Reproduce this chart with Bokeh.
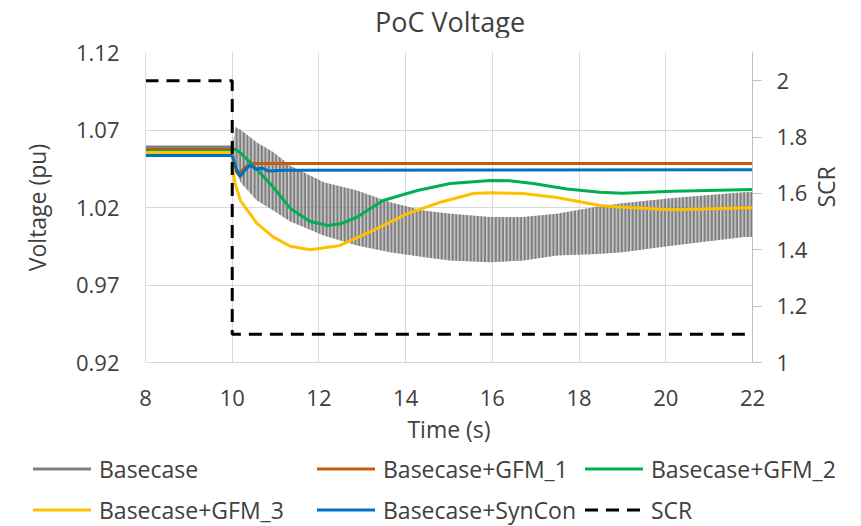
import math
from bokeh.plotting import figure
from bokeh.layouts import column
from bokeh.models import (LinearAxis, Range1d, FixedTicker, CustomJSTickFormatter,
                          ColumnDataSource, Div)
from bokeh.embed import file_html
from bokeh.resources import INLINE

# ---------------- data ----------------
# Basecase: steady line before the SCR step, then a fast oscillation shown by its envelope
base_pre_t = [8.0, 10.0]
base_pre_v = [1.059, 1.059]
base_t = [10.0, 10.08, 10.2, 10.57, 10.95, 11.34, 12.11, 12.88, 13.64, 14.4, 15.03,
          15.95, 16.71, 17.49, 18.4, 19.0, 20.17, 21.8, 22.0]
base_upper = [1.059, 1.072, 1.070, 1.062, 1.0557, 1.047, 1.0363, 1.031, 1.0234, 1.018, 1.016,
              1.0138, 1.0138, 1.016, 1.0205, 1.0228, 1.0262, 1.0299, 1.030]
base_lower = [1.059, 1.045, 1.036, 1.0245, 1.018, 1.011, 1.0019, 0.9955, 0.9912, 0.988, 0.9858,
              0.9847, 0.9858, 0.989, 0.990, 0.9912, 0.9955, 1.0009, 1.001]

gfm1_t = [8.0, 10.0, 10.05, 10.15, 10.3, 10.45, 22.0]
gfm1_v = [1.0575, 1.0575, 1.045, 1.041, 1.046, 1.0484, 1.0484]

gfm2_t = [8.0, 10.0, 10.05, 10.2, 10.57, 10.95, 11.34, 11.8, 12.2, 12.5, 12.88, 13.48,
          14.27, 15.03, 15.95, 16.4, 16.94, 17.72, 18.48, 19.0, 20.17, 22.0]
gfm2_v = [1.0563, 1.0563, 1.058, 1.055, 1.0445, 1.033, 1.0194, 1.011, 1.0084, 1.0095, 1.0138,
          1.0245, 1.031, 1.0355, 1.0374, 1.0372, 1.0355, 1.032, 1.0299, 1.0292, 1.0305, 1.0316]

gfm3_t = [8.0, 10.0, 10.02, 10.06, 10.19, 10.57, 10.95, 11.34, 11.8, 12.49, 13.25, 14.04,
          14.8, 15.56, 15.95, 16.71, 17.49, 18.48, 19.0, 20.17, 22.0]
gfm3_v = [1.0555, 1.0555, 1.045, 1.036, 1.0245, 1.0097, 1.0009, 0.995, 0.9927, 0.9955, 1.0052,
          1.0161, 1.0234, 1.029, 1.0295, 1.029, 1.0264, 1.0213, 1.0202, 1.0185, 1.0198]

syncon_t = [8.0, 10.0, 10.08, 10.18, 10.3, 10.42, 10.55, 10.68, 10.85, 11.2, 22.0]
syncon_v = [1.0535, 1.0535, 1.046, 1.040, 1.0445, 1.0475, 1.0445, 1.0455, 1.0435, 1.044, 1.0443]

scr_t = [8.0, 10.0, 10.0, 22.0]
scr_v = [2.0, 2.0, 1.1, 1.1]

x_ticks = [8, 10, 12, 14, 16, 18, 20, 22]
v_ticks = [0.92, 0.97, 1.02, 1.07, 1.12]
scr_ticks = [1, 1.2, 1.4, 1.6, 1.8, 2]

chart_title = "PoC Voltage"
series_labels = ["Basecase", "Basecase+GFM_1", "Basecase+GFM_2",
                 "Basecase+GFM_3", "Basecase+SynCon", "SCR"]

# ---------------- styling ----------------
FONT = "Open Sans"
TXT = "#404040"
GRID = "#d9d9d9"
C_BASE = "#7f7f7f"
C_G1 = "#c55a11"
C_G2 = "#00b050"
C_G3 = "#ffc000"
C_SYN = "#0070c0"
SCR_DASH = "13 8"

# ---------------- title strip ----------------
title_div = Div(
    text=(f'<div style="position:relative;width:861px;height:37px;background:white">'
          f'<span style="position:absolute;left:450px;top:21px;transform:translate(-50%,-50%);'
          f'font-family:\'{FONT}\';font-size:27px;line-height:1;color:{TXT};white-space:nowrap">'
          f'{chart_title}</span></div>'),
    width=861, height=37, margin=0)

# ---------------- chart ----------------
p = figure(width=861, height=413, x_range=Range1d(8, 22), y_range=Range1d(0.92, 1.12),
           output_backend="svg", toolbar_location=None,
           min_border_left=145, min_border_right=109, min_border_top=15, min_border_bottom=88)
p.extra_y_ranges = {"scr": Range1d(1, 2.1)}
p.outline_line_color = None
p.background_fill_color = "white"
p.border_fill_color = "white"

xa = p.xaxis[0]
xa.ticker = FixedTicker(ticks=x_ticks)
xa.axis_label = "Time (s)"
ya = p.yaxis[0]
ya.ticker = FixedTicker(ticks=v_ticks)
ya.formatter = CustomJSTickFormatter(code="return tick.toFixed(2);")
ya.axis_label = "Voltage (pu)"

ra = LinearAxis(y_range_name="scr", ticker=FixedTicker(ticks=scr_ticks),
                formatter=CustomJSTickFormatter(code="return Number(tick.toFixed(2)).toString();"),
                axis_label="SCR")
try:
    ra.axis_label_orientation = math.pi / 2
except Exception:
    pass
p.add_layout(ra, "right")

for ax in (xa, ya, ra):
    ax.axis_line_color = GRID
    ax.axis_line_width = 1
    ax.major_tick_in = 0
    ax.minor_tick_line_color = None
    ax.major_label_text_font = FONT
    ax.major_label_text_font_size = "22px"
    ax.major_label_text_color = TXT
    ax.axis_label_text_font = FONT
    ax.axis_label_text_font_size = "23px"
    ax.axis_label_text_font_style = "normal"
    ax.axis_label_text_color = TXT

xa.major_tick_out = 0
xa.major_tick_line_color = None
xa.major_label_standoff = 27
xa.axis_label_standoff = 4
ya.major_tick_out = 0
ya.major_tick_line_color = None
ya.major_label_standoff = 26
ya.axis_label_standoff = 20
ra.major_tick_out = 9
ra.major_tick_line_color = "#bfbfbf"
ra.axis_line_color = "#bfbfbf"
ra.major_label_standoff = 15
ra.axis_label_standoff = 16

p.xgrid.grid_line_color = GRID
p.ygrid.grid_line_color = GRID
p.xgrid.grid_line_width = 1
p.ygrid.grid_line_width = 1

band_src = ColumnDataSource(dict(t=base_t, up=base_upper, lo=base_lower))
p.varea(x="t", y1="lo", y2="up", source=band_src, fill_color=C_BASE, fill_alpha=0.4,
        hatch_pattern="vertical_line", hatch_color=C_BASE, hatch_scale=3.6, hatch_weight=2.6)
p.line(base_pre_t, base_pre_v, line_color=C_BASE, line_width=3)
p.line(gfm1_t, gfm1_v, line_color=C_G1, line_width=3)
p.line(gfm2_t, gfm2_v, line_color=C_G2, line_width=3)
p.line(gfm3_t, gfm3_v, line_color=C_G3, line_width=3)
p.line(syncon_t, syncon_v, line_color=C_SYN, line_width=3)
p.line(scr_t, scr_v, y_range_name="scr", line_color="black", line_width=3, line_dash=SCR_DASH)

# ---------------- legend strip (two rows x three columns) ----------------
swatch_colors = [C_BASE, C_G1, C_G2, C_G3, C_SYN, "black"]
swatch_dash = ["", "", "", "", "", SCR_DASH]
col_x = [33, 317, 585]
row_y = [19, 60]
parts = []
for i, lab in enumerate(series_labels):
    x0 = col_x[i % 3]
    yc = row_y[i // 3]
    dash = f' stroke-dasharray="{swatch_dash[i]}"' if swatch_dash[i] else ""
    parts.append(
        f'<svg style="position:absolute;left:{x0}px;top:{yc - 3}px" width="58" height="6">'
        f'<line x1="0" y1="3" x2="58" y2="3" stroke="{swatch_colors[i]}" stroke-width="3"{dash}/></svg>'
    )
    parts.append(
        f'<span style="position:absolute;left:{x0 + 66}px;top:{yc}px;transform:translateY(-50%);'
        f'line-height:1;white-space:nowrap">{lab}</span>'
    )
legend_html = (
    f'<div style="position:relative;width:861px;height:76px;font-family:\'{FONT}\';'
    f'font-size:23px;color:{TXT};background:white">' + "".join(parts) + "</div>"
)
legend_div = Div(text=legend_html, width=861, height=76, margin=0)

layout = column(title_div, p, legend_div, spacing=0)
open("out.html", "w").write(file_html(layout, INLINE))
